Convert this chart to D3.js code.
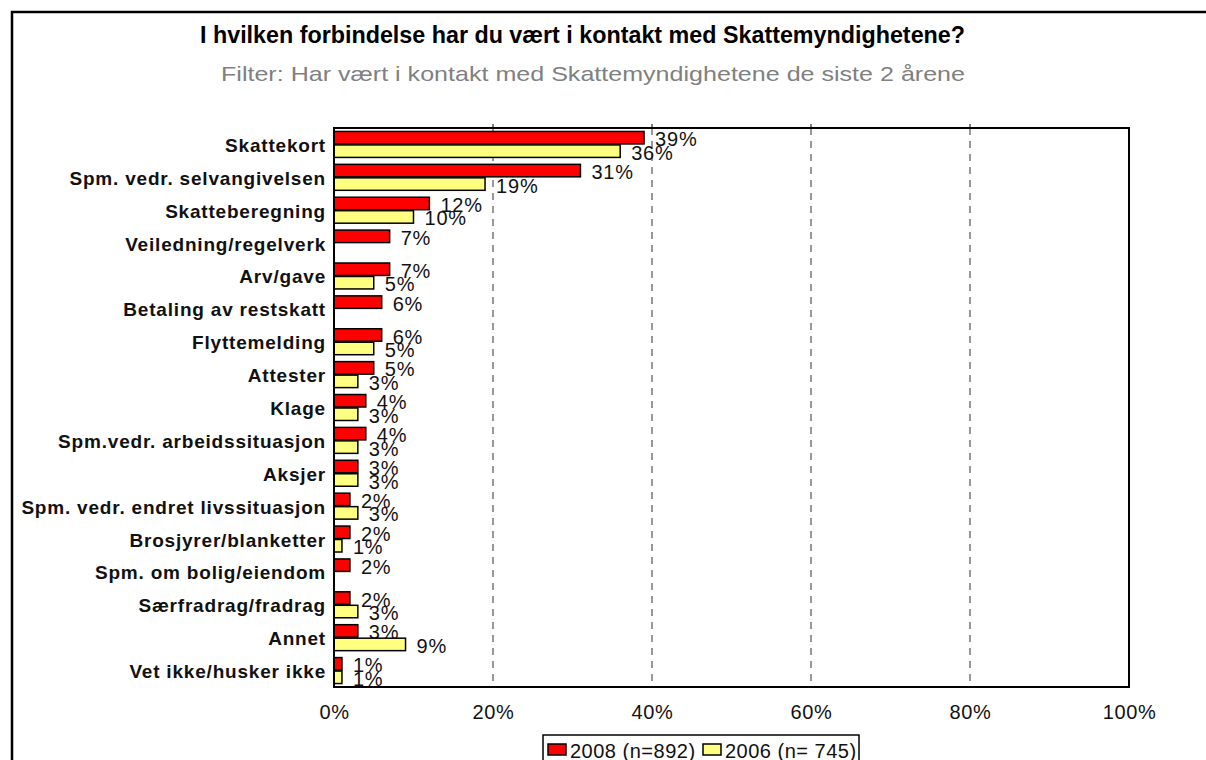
<!DOCTYPE html>
<html>
<head>
<meta charset="utf-8">
<script src="https://d3js.org/d3.v7.min.js"></script>
<style>
  body { margin: 0; background: #fff; }
  text { font-family: "Liberation Sans", Arial, sans-serif; }
</style>
</head>
<body>
<svg width="1206" height="760"></svg>
<script>
var categories = [
  "Skattekort", "Spm. vedr. selvangivelsen", "Skatteberegning", "Veiledning/regelverk",
  "Arv/gave", "Betaling av restskatt", "Flyttemelding", "Attester", "Klage",
  "Spm.vedr. arbeidssituasjon", "Aksjer", "Spm. vedr. endret livssituasjon",
  "Brosjyrer/blanketter", "Spm. om bolig/eiendom", "Særfradrag/fradrag", "Annet",
  "Vet ikke/husker ikke"
];
var values2008 = [39, 31, 12, 7, 7, 6, 6, 5, 4, 4, 3, 2, 2, 2, 2, 3, 1];
var values2006 = [36, 19, 10, null, 5, null, 5, 3, 3, 3, 3, 3, 1, null, 3, 9, 1];
var seriesNames = ["2008 (n=892)", "2006 (n= 745)"];
var seriesColors = ["#ff0000", "#ffff80"];
var xTicks = [0, 20, 40, 60, 80, 100];

var svg = d3.select("svg");
var plotLeft = 334, plotRight = 1129, plotTop = 128, plotBottom = 687;

// outer frame (cut off at right and bottom like the original)
svg.append("rect")
  .attr("x", 12).attr("y", 12)
  .attr("width", 1220).attr("height", 780)
  .attr("fill", "none").attr("stroke", "#000").attr("stroke-width", 2.5);

svg.append("text")
  .attr("x", 200).attr("y", 43)
  .attr("textLength", 765).attr("lengthAdjust", "spacingAndGlyphs")
  .attr("font-size", 23).attr("font-weight", "bold")
  .text("I hvilken forbindelse har du vært i kontakt med Skattemyndighetene?");

svg.append("text")
  .attr("x", 221).attr("y", 81)
  .attr("textLength", 744).attr("lengthAdjust", "spacingAndGlyphs")
  .attr("font-size", 21).attr("fill", "#808080")
  .text("Filter: Har vært i kontakt med Skattemyndighetene de siste 2 årene");

var x = d3.scaleLinear().domain([0, 100]).range([plotLeft, plotRight]);
var y = d3.scaleBand().domain(categories).range([plotTop, plotBottom])
  .paddingInner(0.18).paddingOuter(0.09);
var ySub = d3.scaleBand().domain([0, 1]).range([0, y.bandwidth()]);

// gridlines
svg.append("g").selectAll("line")
  .data(xTicks.slice(1, -1))
  .join("line")
  .attr("x1", function(d) { return x(d); })
  .attr("x2", function(d) { return x(d); })
  .attr("y1", plotTop).attr("y2", plotBottom)
  .attr("stroke", "#777").attr("stroke-width", 1.5)
  .attr("stroke-dasharray", "7,6");
svg.append("g").selectAll("line")
  .data(xTicks.slice(1, -1))
  .join("line")
  .attr("x1", function(d) { return x(d); })
  .attr("x2", function(d) { return x(d); })
  .attr("y1", plotTop - 4).attr("y2", plotTop)
  .attr("stroke", "#555").attr("stroke-width", 1.5);

// bars
var rows = [];
categories.forEach(function(c, i) {
  [values2008[i], values2006[i]].forEach(function(v, s) {
    if (v != null) rows.push({ cat: c, s: s, v: v });
  });
});

var bars = svg.append("g").selectAll("g")
  .data(rows)
  .join("g")
  .attr("transform", function(d) {
    return "translate(0," + (y(d.cat) + ySub(d.s)) + ")";
  });

bars.append("rect")
  .attr("x", plotLeft)
  .attr("y", 0.5)
  .attr("width", function(d) { return x(d.v) - plotLeft; })
  .attr("height", ySub.bandwidth() - 1)
  .attr("fill", function(d) { return seriesColors[d.s]; })
  .attr("stroke", "#000").attr("stroke-width", 1.5);

bars.append("text")
  .attr("x", function(d) { return x(d.v) + 11; })
  .attr("y", ySub.bandwidth() / 2 + 1.5)
  .attr("dominant-baseline", "central")
  .attr("font-size", 20).attr("letter-spacing", 0.8)
  .attr("fill", "#111")
  .text(function(d) { return d.v + "%"; });

// plot frame
svg.append("rect")
  .attr("x", plotLeft).attr("y", plotTop)
  .attr("width", plotRight - plotLeft).attr("height", plotBottom - plotTop)
  .attr("fill", "none").attr("stroke", "#000").attr("stroke-width", 2);

// category labels
svg.append("g").selectAll("text")
  .data(categories)
  .join("text")
  .attr("x", 326)
  .attr("y", function(d) { return y(d) + y.bandwidth() / 2 + 1; })
  .attr("text-anchor", "end")
  .attr("dominant-baseline", "central")
  .attr("font-size", 19).attr("font-weight", "bold")
  .attr("letter-spacing", 0.8)
  .attr("fill", "#111")
  .text(function(d) { return d; });

// x axis
var xAxis = d3.axisBottom(x)
  .tickValues(xTicks)
  .tickSize(0)
  .tickPadding(18)
  .tickFormat(function(d) { return d + "%"; });
var gx = svg.append("g").attr("transform", "translate(0," + plotBottom + ")").call(xAxis);
gx.select(".domain").remove();
gx.selectAll("text")
  .attr("font-family", "Liberation Sans, Arial, sans-serif")
  .attr("font-size", 20).attr("letter-spacing", 0.6)
  .attr("fill", "#111");

// legend
var legend = svg.append("g");
legend.append("rect")
  .attr("x", 543).attr("y", 735)
  .attr("width", 316).attr("height", 40)
  .attr("fill", "#fff").attr("stroke", "#000").attr("stroke-width", 1.5);
var legX = [548, 703];
var items = legend.selectAll("g.item")
  .data(seriesNames)
  .join("g")
  .attr("class", "item")
  .attr("transform", function(d, i) { return "translate(" + legX[i] + ",744)"; });
items.append("rect")
  .attr("width", 18).attr("height", 11)
  .attr("fill", function(d, i) { return seriesColors[i]; })
  .attr("stroke", "#000").attr("stroke-width", 1.5);
items.append("text")
  .attr("x", 22).attr("y", 6.5)
  .attr("dominant-baseline", "central")
  .attr("font-size", 20).attr("letter-spacing", 0.5)
  .attr("fill", "#111")
  .text(function(d) { return d; });
</script>
</body>
</html>
